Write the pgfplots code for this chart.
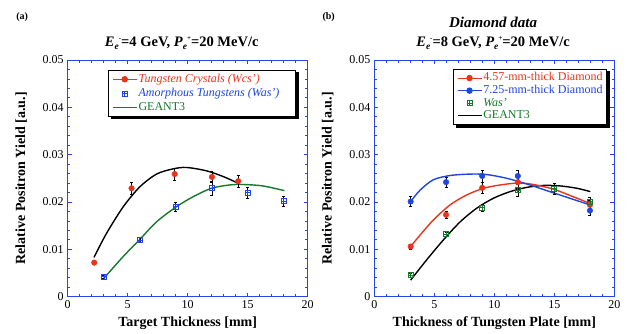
\documentclass[border=0pt]{standalone}
\usepackage{fontspec}
\setmainfont{Liberation Serif}
\usepackage{pgfplots}
\pgfplotsset{compat=1.18}
\pgfdeclarelayer{background}
\pgfsetlayers{background,main}
\definecolor{myred}{RGB}{232,52,28}
\definecolor{myblue}{RGB}{30,70,225}
\definecolor{mygreen}{RGB}{25,120,45}
\definecolor{axblue}{RGB}{40,70,230}
\pgfdeclareplotmark{boxplus}{%
  \pgfpathrectangle{\pgfqpoint{-\pgfplotmarksize}{-\pgfplotmarksize}}{\pgfqpoint{2\pgfplotmarksize}{2\pgfplotmarksize}}%
  \pgfpathmoveto{\pgfqpoint{-\pgfplotmarksize}{0pt}}\pgfpathlineto{\pgfqpoint{\pgfplotmarksize}{0pt}}%
  \pgfpathmoveto{\pgfqpoint{0pt}{-\pgfplotmarksize}}\pgfpathlineto{\pgfqpoint{0pt}{\pgfplotmarksize}}%
  \pgfusepathqstroke}
\newcommand{\Ee}[1]{\textit{E}\raisebox{-0.35ex}{\fontsize{9.5}{9}\selectfont\textit{e}}\raisebox{0.9ex}{\fontsize{7}{7}\selectfont -}=#1 GeV, \textit{P}\raisebox{-0.35ex}{\fontsize{9.5}{9}\selectfont\textit{e}}\raisebox{0.9ex}{\fontsize{7}{7}\selectfont +}=20 MeV/c}
\newcommand{\lf}{\fontsize{12}{13}\selectfont}
\pgfplotsset{
  myax/.style={
    scale only axis, width=240pt, height=236.7pt,
    xmin=0, xmax=20, ymin=0, ymax=0.05,
    xtick={0,5,10,15,20}, minor x tick num=4,
    ytick={0,0.01,0.02,0.03,0.04,0.05}, yticklabels={0,0.01,0.02,0.03,0.04,0.05},
    minor y tick num=4,
    scaled y ticks=false,
    tick align=inside, xtick pos=both, ytick pos=both,
    axis line style={axblue, line width=0.9pt},
    every tick/.style={axblue, line width=0.8pt},
    major tick length=4pt, minor tick length=2.5pt,
    tick label style={font=\fontsize{12}{14}\selectfont, black},
    /pgf/number format/assume math mode=true,
    xticklabel style={yshift=-0.5pt},
    yticklabel style={xshift=-0.5pt},
    ylabel={\textbf{Relative Positron Yield [a.u.]}},
    ylabel style={at={(axis description cs:-0.194,0.5)}, anchor=center, font=\fontsize{14}{16}\selectfont},
    xlabel style={at={(axis description cs:0.5,-0.111)}, anchor=center, font=\fontsize{14}{16}\selectfont},
    legend image code/.code={\draw[mark repeat=2,mark phase=2] plot coordinates {(0pt,0pt) (12pt,0pt) (24.5pt,0pt)};},
    legend style={draw=black, line width=1pt, fill=white, font=\lf,
      inner xsep=3.5pt, inner ysep=2.5pt, row sep=0pt, legend cell align=left,
      nodes={text height=8.6pt, text depth=2.8pt, inner ysep=0.6pt, inner xsep=0.8pt}},
    clip=false,
    error bars/error bar style={black, line width=0.6pt},
    error bars/error mark options={black, rotate=90, mark size=1.5pt, line width=0.6pt},
  }
}
\begin{document}
\begin{tikzpicture}
\path[use as bounding box] (0,0) rectangle (629pt,334pt);
% ---------------- (a)
\begin{axis}[myax, at={(67.7pt,37.3pt)}, anchor=south west,
  xlabel={\textbf{Target Thickness [mm]}},
  legend style={at={(axis description cs:0.169,0.958)}, anchor=north west, name=legA, row sep=1.6pt}]
\addlegendimage{myred, line width=1pt, mark=*, mark size=2.7pt, mark options={fill=myred}}
\addlegendentry{\lf\textcolor{myred}{\textit{Tungsten Crystals (Wcs')}}}
\addlegendimage{only marks, myblue, mark=boxplus, mark size=2.5pt, mark options={line width=0.7pt}}
\addlegendentry{\lf\textcolor{myblue}{\textit{Amorphous Tungstens (Was')}}\hspace*{12pt}}
\addlegendimage{mygreen, line width=1pt}
\addlegendentry{\lf\textcolor{mygreen}{GEANT3}}
% curves
\addplot[black, line width=1.4pt, smooth, forget plot] coordinates {
(2.19,0.0083) (3.24,0.0134) (4.63,0.0190) (6.01,0.0232) (7.40,0.0259) (8.78,0.0270) (9.89,0.0273) (11.55,0.0266) (12.94,0.0254) (14.18,0.0240)};
\addplot[mygreen, line width=1.4pt, smooth, forget plot] coordinates {
(3.02,0.0039) (4.63,0.0085) (6.01,0.0121) (7.40,0.0158) (9.0,0.0189) (10.44,0.0211) (11.97,0.0229) (13.49,0.0236) (14.6,0.0237) (16.26,0.0234) (18.06,0.0224)};
% data
\addplot[forget plot, only marks, myred, mark=*, mark size=2.8pt, mark options={fill=myred}, error bars/.cd, y dir=both, y explicit] coordinates {
(2.21,0.0072) +- (0,0.0003)
(5.32,0.0229) +- (0,0.0012)
(8.92,0.0259) +- (0,0.0013)
(12.02,0.0253) +- (0,0.0012)
(14.21,0.0244) +- (0,0.0012)};
\addplot[forget plot, only marks, myblue, mark=boxplus, mark size=2.5pt, mark options={line width=0.7pt, fill=white}, error bars/.cd, y dir=both, y explicit] coordinates {
(3.02,0.0042) +- (0,0.0004)
(6.01,0.0120) +- (0,0.0005)
(9.0,0.0190) +- (0,0.0010)
(12.02,0.0229) +- (0,0.0014)
(15.0,0.0220) +- (0,0.0012)
(18.0,0.0202) +- (0,0.0010)};
\node[font=\fontsize{10}{12}\selectfont\bfseries] at (axis description cs:-0.19,1.182) {(a)};
\node[font=\fontsize{14.5}{16}\selectfont\bfseries] at (axis description cs:0.475,1.072) {\Ee{4}};
\end{axis}
% ---------------- (b)
\begin{axis}[myax, at={(374.3pt,37.3pt)}, anchor=south west,
  xlabel={\textbf{Thickness of Tungsten Plate [mm]}},
  legend style={at={(axis description cs:0.328,0.963)}, anchor=north west, name=legB}]
\addlegendimage{myred, line width=1pt, mark=*, mark size=2.7pt, mark options={fill=myred}}
\addlegendentry{\lf\textcolor{myred}{4.57-mm-thick Diamond}}
\addlegendimage{myblue, line width=1pt, mark=*, mark size=2.7pt, mark options={fill=myblue}}
\addlegendentry{\lf\textcolor{myblue}{7.25-mm-thick Diamond}}
\addlegendimage{only marks, mygreen, mark=boxplus, mark size=2.5pt, mark options={line width=0.7pt}}
\addlegendentry{\lf\textcolor{mygreen}{\textit{Was'}}}
\addlegendimage{black, line width=1pt}
\addlegendentry{\lf\textcolor{mygreen}{GEANT3}}
\addplot[black, line width=1.4pt, smooth, forget plot] coordinates {
(3.03,0.0035) (4.37,0.0078) (5.76,0.0120) (7.15,0.0158) (8.54,0.0187) (9.93,0.0208) (11.32,0.0222) (12.72,0.0231) (14.1,0.0235) (15.49,0.0234) (16.89,0.0229) (18.0,0.0222)};
\addplot[myred, line width=1.4pt, smooth, forget plot] coordinates {
(3.03,0.0106) (3.81,0.0130) (4.92,0.0162) (6.32,0.0194) (7.71,0.0215) (9.1,0.0229) (10.49,0.0236) (11.96,0.0240) (13.27,0.0237) (14.94,0.0227) (16.6,0.0211) (17.97,0.0197)};
\addplot[myblue, line width=1.4pt, smooth, forget plot] coordinates {
(3.03,0.0201) (3.81,0.0225) (4.92,0.0247) (6.32,0.0256) (7.98,0.0259) (9.38,0.0258) (11.05,0.0250) (12.72,0.0238) (14.38,0.0224) (16.05,0.0210) (17.97,0.0194)};
\addplot[forget plot, only marks, myred, mark=*, mark size=2.8pt, mark options={fill=myred}, error bars/.cd, y dir=both, y explicit] coordinates {
(3.03,0.0106) +- (0,0.0005)
(5.98,0.0173) +- (0,0.0008)
(8.99,0.0230) +- (0,0.0012)
(11.96,0.0242) +- (0,0.0012)
(17.97,0.0194) +- (0,0.0010)};
\addplot[forget plot, only marks, myblue, mark=*, mark size=2.8pt, mark options={fill=myblue}, error bars/.cd, y dir=both, y explicit] coordinates {
(3.03,0.0201) +- (0,0.0011)
(5.98,0.0242) +- (0,0.0011)
(8.99,0.0255) +- (0,0.0013)
(11.96,0.0255) +- (0,0.0013)
(17.97,0.0182) +- (0,0.0010)};
\addplot[forget plot, only marks, mygreen, mark=boxplus, mark size=2.5pt, mark options={line width=0.7pt, fill=white}, error bars/.cd, y dir=both, y explicit] coordinates {
(3.03,0.0046) +- (0,0.0004)
(5.98,0.0132) +- (0,0.0005)
(8.99,0.0188) +- (0,0.0008)
(11.96,0.0225) +- (0,0.0012)
(15.0,0.0228) +- (0,0.0012)
(17.97,0.0201) +- (0,0.0010)};
\node[font=\fontsize{10}{12}\selectfont\bfseries] at (axis description cs:-0.19,1.182) {(b)};
\node[font=\fontsize{15}{17}\selectfont\bfseries\itshape] at (axis description cs:0.495,1.160) {Diamond data};
\node[font=\fontsize{14.5}{16}\selectfont\bfseries] at (axis description cs:0.495,1.072) {\Ee{8}};
\end{axis}
\begin{pgfonlayer}{background}
\fill[black] ([shift={(2.5pt,-2.5pt)}]legA.south west) rectangle ([shift={(2.5pt,-2.5pt)}]legA.north east);
\fill[black] ([shift={(2.5pt,-2.5pt)}]legB.south west) rectangle ([shift={(2.5pt,-2.5pt)}]legB.north east);
\end{pgfonlayer}
\end{tikzpicture}
\end{document}
